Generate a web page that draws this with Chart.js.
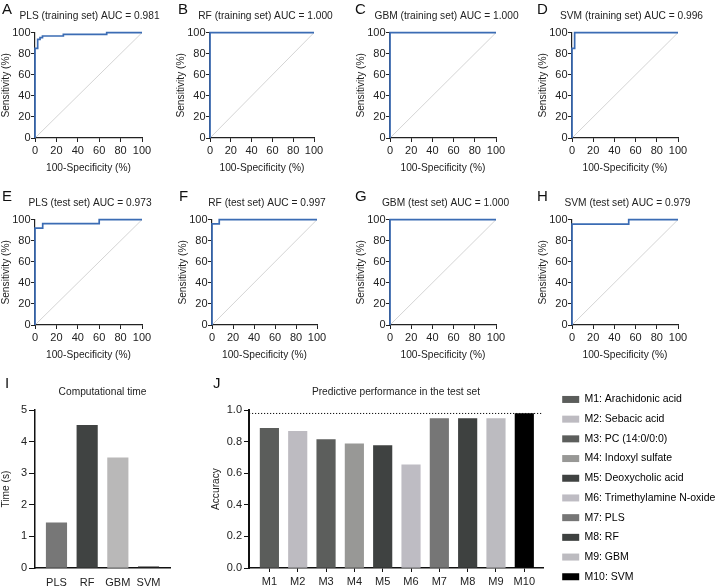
<!DOCTYPE html>
<html>
<head>
<meta charset="utf-8">
<script src="https://cdn.jsdelivr.net/npm/chart.js@4.4.1/dist/chart.umd.min.js"></script>
<style>
  html, body { margin: 0; padding: 0; background: #fff; }
  body { width: 715px; height: 587px; position: relative; overflow: hidden; font-family: 'Liberation Sans', Arial, sans-serif; }
  canvas { position: absolute; }
  .tag { position: absolute; font-size: 15px; line-height: 1; color: #111; will-change: transform; }
</style>
</head>
<body>
<div class="tag" style="left:2px;top:1px">A</div>
<div class="tag" style="left:178px;top:1px">B</div>
<div class="tag" style="left:355px;top:1px">C</div>
<div class="tag" style="left:537px;top:1px">D</div>
<div class="tag" style="left:2px;top:188px">E</div>
<div class="tag" style="left:179px;top:188px">F</div>
<div class="tag" style="left:355px;top:188px">G</div>
<div class="tag" style="left:537px;top:188px">H</div>
<div class="tag" style="left:5px;top:375px">I</div>
<div class="tag" style="left:213px;top:375px">J</div>
<script>
// ROC curves: 100-Specificity (%) on x, Sensitivity (%) on y
const plsTrainX = [0, 0, 2.5, 4.7, 7, 26.5, 67, 100];
const plsTrainY = [0, 85, 93.7, 95.3, 96.8, 98.4, 100, 100];
const rfTrainX = [0, 0, 100];
const rfTrainY = [0, 100, 100];
const gbmTrainX = [0, 0, 100];
const gbmTrainY = [0, 100, 100];
const svmTrainX = [0, 0, 2.5, 100];
const svmTrainY = [0, 85, 100, 100];
const plsTestX = [0, 0, 7.2, 60, 100];
const plsTestY = [0, 92, 96.2, 100, 100];
const rfTestX = [0, 0, 6.9, 100];
const rfTestY = [0, 95.9, 100, 100];
const gbmTestX = [0, 0, 100];
const gbmTestY = [0, 100, 100];
const svmTestX = [0, 0, 53.5, 100];
const svmTestY = [0, 95.8, 100, 100];
const diagX = [0, 100];
const diagY = [0, 100];
const rocTicks = [0, 20, 40, 60, 80, 100];

// computational time
const timeModels = ['PLS', 'RF', 'GBM', 'SVM'];
const timeSeconds = [1.43, 4.52, 3.49, 0.04];
const timeTicks = [0, 1, 2, 3, 4, 5];

// predictive performance in the test set
const accLabels = ['M1', 'M2', 'M3', 'M4', 'M5', 'M6', 'M7', 'M8', 'M9', 'M10'];
const accNames = ['M1: Arachidonic acid', 'M2: Sebacic acid', 'M3: PC (14:0/0:0)', 'M4: Indoxyl sulfate',
  'M5: Deoxycholic acid', 'M6: Trimethylamine N-oxide', 'M7: PLS', 'M8: RF', 'M9: GBM', 'M10: SVM'];
const accValues = [0.884, 0.865, 0.813, 0.787, 0.775, 0.654, 0.947, 0.947, 0.947, 0.979];
const accTicks = [0, 0.2, 0.4, 0.6, 0.8, 1.0];
const refAccuracy = 0.979;

// colours
const rocBlue = '#3b6cb4';
const timeColors = ['#777777', '#404342', '#b9b8b8', '#222222'];
const accColors = ['#5b5d5b', '#bdbbc1', '#5c5e5c', '#989896', '#3f4241', '#bebcc3', '#767676', '#3e4140', '#bcbbc0', '#000000'];

Chart.defaults.font.family = "'Liberation Sans', Arial, Helvetica, sans-serif";
Chart.defaults.color = '#222';
Chart.defaults.animation = false;

const txtFont = {size: 10.2, weight: 'normal'};
const tickFont = {size: 11};

function addCanvas(id, left, top, w, h) {
  const c = document.createElement('canvas');
  c.id = id;
  c.width = w;
  c.height = h;
  c.style.left = left + 'px';
  c.style.top = top + 'px';
  c.style.width = w + 'px';
  c.style.height = h + 'px';
  document.body.appendChild(c);
  return c;
}

const toPoints = (xs, ys) => xs.map((x, i) => ({x: x, y: ys[i]}));

// x0/x1 = plot area edges on the page, padR = empty space right of the plot
const rocPanels = [
  {id: 'rocA', title: 'PLS (training set) AUC = 0.981', x: plsTrainX, y: plsTrainY, x0: 35, x1: 142, padR: 37, top: 0},
  {id: 'rocB', title: 'RF (training set) AUC = 1.000', x: rfTrainX, y: rfTrainY, x0: 210, x1: 314, padR: 42, top: 0},
  {id: 'rocC', title: 'GBM (training set) AUC = 1.000', x: gbmTrainX, y: gbmTrainY, x0: 390, x1: 496, padR: 42, top: 0},
  {id: 'rocD', title: 'SVM (training set) AUC = 0.996', x: svmTrainX, y: svmTrainY, x0: 572, x1: 678, padR: 48, top: 0},
  {id: 'rocE', title: 'PLS (test set) AUC = 0.973', x: plsTestX, y: plsTestY, x0: 35, x1: 142, padR: 38, top: 187},
  {id: 'rocF', title: 'RF (test set) AUC = 0.997', x: rfTestX, y: rfTestY, x0: 212, x1: 317, padR: 40, top: 187},
  {id: 'rocG', title: 'GBM (test set) AUC = 1.000', x: gbmTestX, y: gbmTestY, x0: 390, x1: 496, padR: 40, top: 187},
  {id: 'rocH', title: 'SVM (test set) AUC = 0.979', x: svmTestX, y: svmTestY, x0: 572, x1: 678, padR: 40, top: 187},
];

function rocAxis(titleText, isX) {
  return {
    type: 'linear',
    min: 0,
    max: 100,
    afterBuildTicks: s => { s.ticks = rocTicks.map(v => ({value: v})); },
    afterFit: s => { if (isX) s.height = 38; else s.width = 35; },
    grid: {drawOnChartArea: false, tickLength: 4, color: '#222', tickColor: '#222'},
    border: {color: '#222', width: 1.2},
    ticks: {font: tickFont, padding: isX ? 2 : 0.5, color: '#222', autoSkip: false, maxRotation: 0},
    title: {display: true, text: titleText, font: txtFont, color: '#222', padding: isX ? {top: 0, bottom: 2} : {top: 0, bottom: 0}},
  };
}

rocPanels.forEach(p => {
  const w = p.x1 - p.x0 + 35 + p.padR;
  const canvas = addCanvas(p.id, p.x0 - 35, p.top, w, 176);
  new Chart(canvas, {
    type: 'line',
    data: {
      datasets: [
        {data: toPoints(p.x, p.y), borderColor: rocBlue, borderWidth: 1.7, pointRadius: 0, stepped: 'before', fill: false, clip: 4},
        {data: toPoints(diagX, diagY), borderColor: '#c9c9c9', borderWidth: 0.8, pointRadius: 0, fill: false},
      ],
    },
    options: {
      responsive: false,
      layout: {padding: 0},
      plugins: {
        legend: {display: false},
        tooltip: {enabled: false},
        title: {display: true, text: p.title, font: txtFont, color: '#222', padding: {top: 10, bottom: 10.4}},
      },
      scales: {
        x: rocAxis('100-Specificity (%)', true),
        y: rocAxis('Sensitivity (%)', false),
        // empty spacer on the right so the title is centred like the original
        spacer: {
          type: 'linear', position: 'right', display: true,
          ticks: {display: false}, grid: {display: false}, border: {display: false},
          afterFit: s => { s.width = p.padR; },
        },
      },
    },
  });
});

// I: computational time
new Chart(addCanvas('timeChart', 0, 378, 200, 209), {
  type: 'bar',
  data: {
    datasets: [{data: timeSeconds.map((v, i) => ({x: i, y: v})), backgroundColor: timeColors, barThickness: 20.5}],
  },
  options: {
    responsive: false,
    layout: {padding: {left: 0, top: 0, right: 30, bottom: 0}},
    plugins: {
      legend: {display: false},
      tooltip: {enabled: false},
      title: {display: true, text: 'Computational time', fullSize: false, font: txtFont, color: '#222', padding: {top: 7.7, bottom: 12.2}},
    },
    scales: {
      x: {
        type: 'linear', min: -0.7, max: 3.7, offset: false,
        afterBuildTicks: s => { s.ticks = timeModels.map((_, i) => ({value: i})); },
        afterFit: s => { s.height = 19; },
        grid: {display: false, drawTicks: false, offset: false},
        border: {color: '#111', width: 1.5},
        ticks: {font: tickFont, padding: 8, color: '#222', autoSkip: false, maxRotation: 0, callback: v => timeModels[v]},
      },
      y: {
        min: 0, max: 5,
        afterBuildTicks: s => { s.ticks = timeTicks.map(v => ({value: v})); },
        afterFit: s => { s.width = 35; },
        grid: {drawOnChartArea: false, tickLength: 6, color: '#111', tickColor: '#111'},
        border: {color: '#111', width: 1.5},
        ticks: {font: tickFont, padding: 2, color: '#222'},
        title: {display: true, text: 'Time (s)', font: txtFont, color: '#222', padding: {top: 0, bottom: 0}},
      },
    },
  },
});

// dotted reference line drawn through the y scale
const refLinePlugin = {
  id: 'refLine',
  afterDatasetsDraw(chart, args, opts) {
    const y = chart.scales.y.getPixelForValue(opts.value);
    const {left, right} = chart.chartArea;
    const ctx = chart.ctx;
    ctx.save();
    ctx.setLineDash([1.2, 1.8]);
    ctx.strokeStyle = '#111';
    ctx.lineWidth = 1;
    ctx.beginPath();
    ctx.moveTo(left, y);
    ctx.lineTo(right, y);
    ctx.stroke();
    ctx.restore();
  },
};

// J: accuracy
new Chart(addCanvas('accChart', 200, 378, 345, 209), {
  type: 'bar',
  data: {
    datasets: [{data: accValues.map((v, i) => ({x: i, y: v})), backgroundColor: accColors, barThickness: 18.5}],
  },
  options: {
    responsive: false,
    layout: {padding: {left: 0, top: 0, right: 2, bottom: 0}},
    plugins: {
      legend: {display: false},
      tooltip: {enabled: false},
      title: {display: true, text: 'Predictive performance in the test set', fullSize: false, font: txtFont, color: '#222', padding: {top: 7.7, bottom: 12.2}},
      refLine: {value: refAccuracy},
    },
    scales: {
      x: {
        type: 'linear', min: -0.72, max: 9.66, offset: false,
        afterBuildTicks: s => { s.ticks = accLabels.map((_, i) => ({value: i})); },
        afterFit: s => { s.height = 19; },
        grid: {drawOnChartArea: false, tickLength: 4, offset: false, color: '#111', tickColor: '#111'},
        border: {color: '#111', width: 1.5},
        ticks: {font: tickFont, padding: 3, color: '#222', autoSkip: false, maxRotation: 0, callback: v => accLabels[v]},
      },
      y: {
        min: 0, max: 1,
        afterBuildTicks: s => { s.ticks = accTicks.map(v => ({value: v})); },
        afterFit: s => { s.width = 49; },
        grid: {drawOnChartArea: false, tickLength: 5, color: '#111', tickColor: '#111'},
        border: {color: '#111', width: 2},
        ticks: {font: tickFont, padding: 2, color: '#222', callback: v => v.toFixed(1)},
        title: {display: true, text: 'Accuracy', font: txtFont, color: '#222', padding: {top: 10, bottom: 0}},
      },
    },
  },
  plugins: [refLinePlugin],
});

// J legend
new Chart(addCanvas('accLegend', 553, 384.5, 162, 210), {
  type: 'bar',
  data: {labels: [], datasets: []},
  options: {
    responsive: false,
    plugins: {
      tooltip: {enabled: false},
      legend: {
        position: 'left',
        align: 'start',
        maxWidth: 162,
        labels: {
          boxWidth: 17,
          boxHeight: 7,
          padding: 9.2,
          font: {size: 10.5},
          color: '#333',
          generateLabels: () => accNames.map((t, i) => ({
            text: t, fillStyle: accColors[i], strokeStyle: accColors[i], lineWidth: 0, hidden: false, index: i,
          })),
        },
      },
    },
    scales: {x: {display: false}, y: {display: false}},
  },
});
</script>
</body>
</html>
